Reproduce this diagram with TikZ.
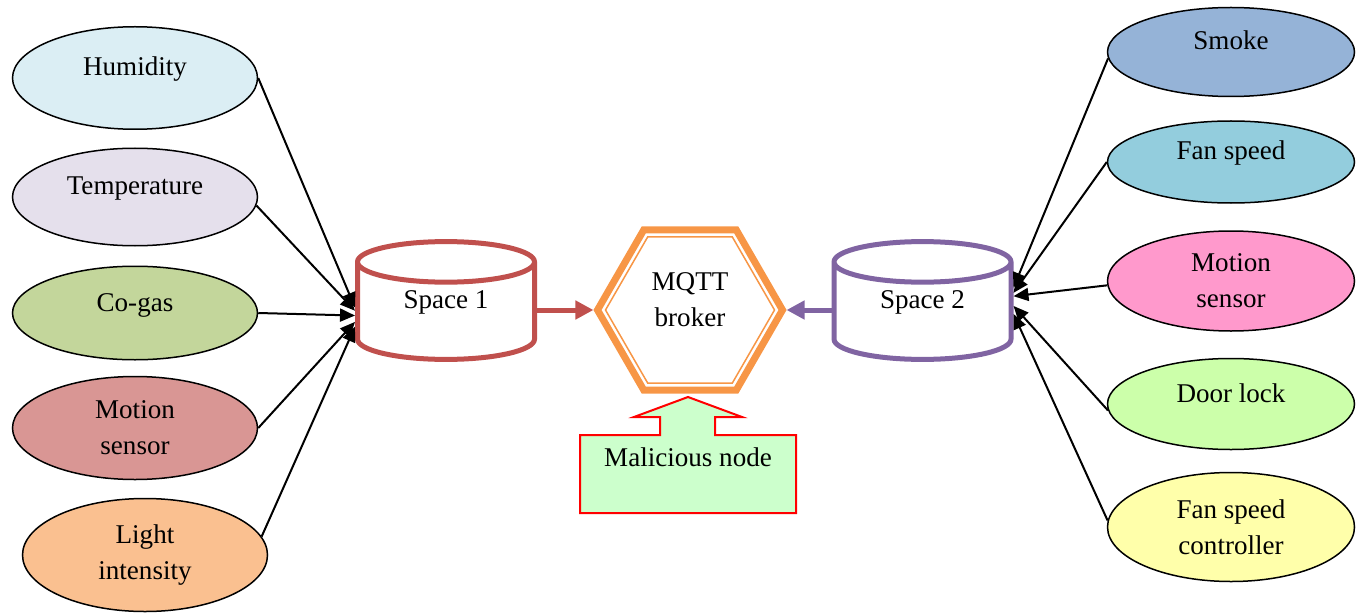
\documentclass[tikz,border=0pt]{standalone}
\usepackage{fontspec}
\setmainfont{Liberation Serif}
\usetikzlibrary{shapes.geometric, arrows.meta}
\definecolor{humfill}{HTML}{DBEEF4}
\definecolor{tempfill}{HTML}{E5E0EC}
\definecolor{gasfill}{HTML}{C3D69B}
\definecolor{motlfill}{HTML}{D99694}
\definecolor{lightfill}{HTML}{FAC090}
\definecolor{smokefill}{HTML}{95B3D7}
\definecolor{fanfill}{HTML}{93CDDD}
\definecolor{motrfill}{HTML}{FF99CC}
\definecolor{doorfill}{HTML}{CCFFAA}
\definecolor{fscfill}{HTML}{FFFFAA}
\definecolor{spaceonered}{HTML}{C0504D}
\definecolor{spacetwopurple}{HTML}{8064A2}
\definecolor{brokerorange}{HTML}{F79646}
\definecolor{malgreen}{HTML}{CCFFCC}
\begin{document}
\begin{tikzpicture}[font=\fontsize{15.4}{20.5}\selectfont, line join=miter,
    sensor/.style={ellipse, draw=black, line width=0.03cm, minimum width=4.9cm, align=center, inner sep=0pt},
    oneline/.style={text height=0.36cm, text depth=0.44cm},
    space/.style={cylinder, shape border rotate=90, aspect=0.42, anchor=shape center, fill=white, line width=0.1cm, minimum width=3.54cm, minimum height=2.25cm, text height=0.36cm, text depth=0.64cm},
    broker/.style={regular polygon, regular polygon sides=6, draw=brokerorange, align=center, inner sep=0pt},
    wire/.style={-{Triangle[length=0.3cm, width=0.26cm]}, line width=0.04cm},
    feed/.style={-{Triangle[length=0.36cm, width=0.36cm]}, line width=0.1cm}]
    \useasboundingbox (0, 0) rectangle (27.26, 12.26);
    \node[sensor, oneline, fill=humfill, minimum height=2.05cm] (hum) at (2.70, 10.70) {Humidity};
    \node[sensor, oneline, fill=tempfill, minimum height=1.95cm] (temp) at (2.70, 8.32) {Temperature};
    \node[sensor, oneline, fill=gasfill, minimum height=1.87cm] (gas) at (2.70, 6.00) {Co-gas};
    \node[sensor, fill=motlfill, minimum height=2.06cm] (motl) at (2.70, 3.70) {Motion\\sensor};
    \node[sensor, fill=lightfill, minimum height=2.26cm] (light) at (2.90, 1.16) {Light\\intensity};
    \node[sensor, oneline, fill=smokefill, minimum height=1.78cm, minimum width=4.94cm] (smoke) at (24.62, 11.22) {Smoke};
    \node[sensor, oneline, fill=fanfill, minimum height=1.64cm, minimum width=4.94cm] (fan) at (24.62, 9.02) {Fan speed};
    \node[sensor, fill=motrfill, minimum height=2.00cm, minimum width=4.94cm] (motr) at (24.62, 6.64) {Motion\\sensor};
    \node[sensor, oneline, fill=doorfill, minimum height=1.82cm, minimum width=4.94cm] (door) at (24.62, 4.18) {Door lock};
    \node[sensor, fill=fscfill, minimum height=2.18cm, minimum width=4.94cm] (fsc) at (24.62, 1.72) {Fan speed\\controller};
    \node[space, draw=spaceonered] (s1) at (8.92, 6.25) {Space 1};
    \node[space, draw=spacetwopurple] (s2) at (18.45, 6.25) {Space 2};
    \node[broker, minimum size=3.7cm, line width=0.14cm] (mqtt) at (13.80, 6.06) {};
    \node[broker, minimum size=3.38cm, line width=0.03cm, label={[align=center, yshift=0.2cm]center:MQTT\\broker}] (mqttrim) at (mqtt.center) {};
    \draw[wire] (hum.east) -- (s1.175);
    \draw[wire] (temp.-4) -- (s1.177.5);
    \draw[wire] (gas.east) -- (s1.180.5);
    \draw[wire] (motl.east) -- (s1.184);
    \draw[wire] (light.9) -- (s1.187.5);
    \draw[wire] (smoke.183) -- (s2.17.5);
    \draw[wire] (fan.west) -- (s2.14.5);
    \draw[wire] (motr.182) -- (s2.12.5);
    \draw[wire] (door.183) -- (s2.6);
    \draw[wire] (fsc.177.5) -- (s2.1.5);
    \draw[feed, spaceonered] (mqtt.west -| s1.east) -- (mqtt.west);
    \draw[feed, spacetwopurple] (mqtt.east -| s2.west) -- (mqtt.east);
    \filldraw[draw=red, fill=malgreen, line width=0.04cm] (11.60, 3.56) -- (13.20, 3.56) -- (13.20, 3.92) -- (12.68, 3.92) -- (13.76, 4.32) -- (14.84, 3.92) -- (14.30, 3.92) -- (14.30, 3.56) -- (15.92, 3.56) -- (15.92, 2.00) -- (11.60, 2.00) -- cycle;
    \node (mal) at (13.76, 3.12) {Malicious node};
\end{tikzpicture}
\end{document}
